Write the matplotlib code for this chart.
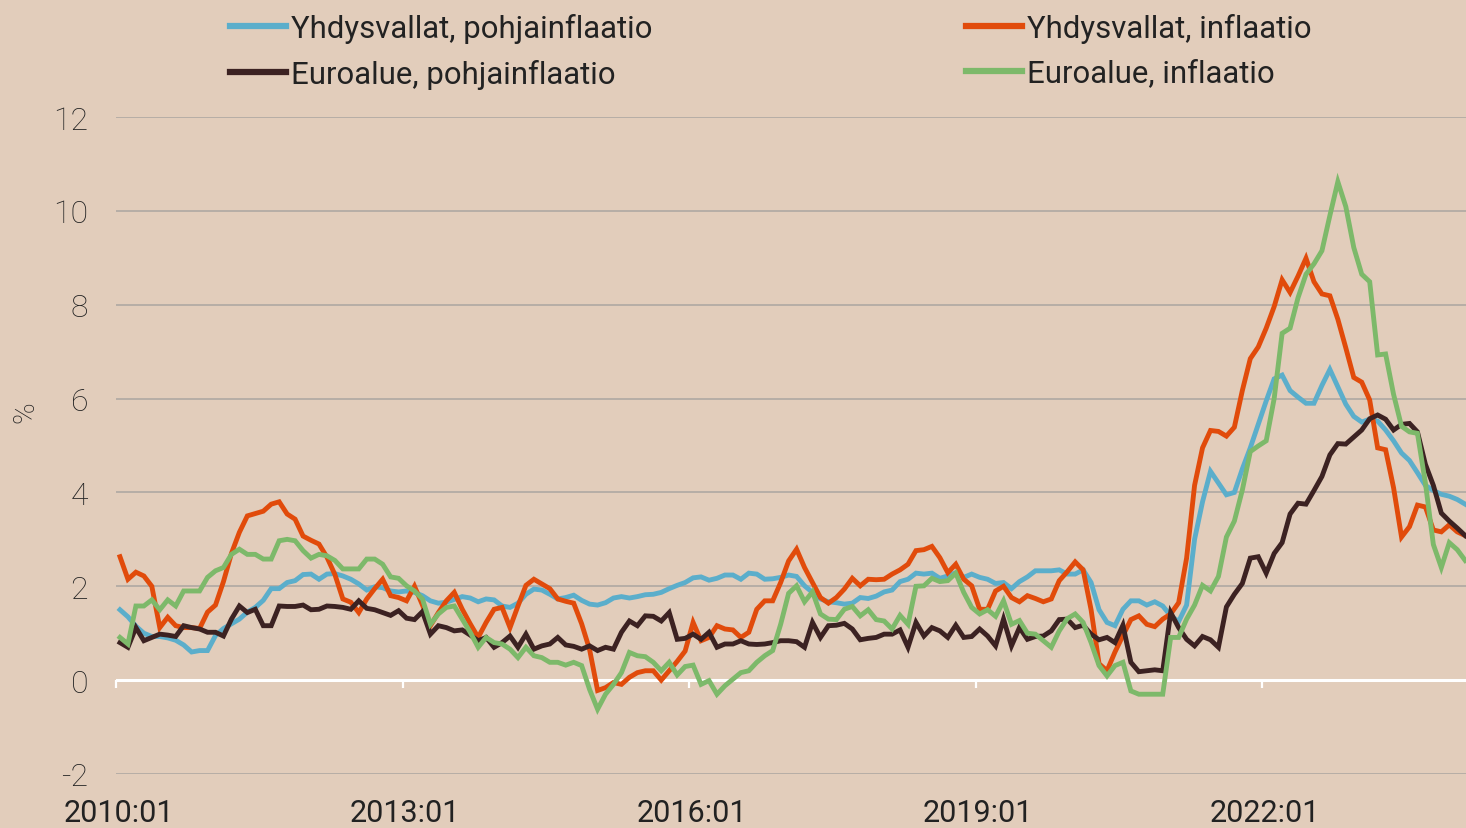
import matplotlib
matplotlib.use("Agg")
import matplotlib.pyplot as plt
import numpy as np

# ---- data: monthly year-on-year change, %, 2010:01 ... 2024:02 ----
start_year, start_month, n_months = 2010, 1, 170

us_core = [
    1.5, 1.35, 1.15, 1.0, 0.93, 0.93, 0.9, 0.85, 0.75, 0.6, 0.63, 0.63,
    0.95, 1.1, 1.2, 1.3, 1.45, 1.55, 1.7, 1.95, 1.95, 2.08, 2.12, 2.25,
    2.26, 2.15, 2.26, 2.27, 2.22, 2.15, 2.05, 1.92, 1.99, 1.97, 1.9, 1.88,
    1.9, 1.87, 1.8, 1.69, 1.64, 1.66, 1.72, 1.78, 1.75, 1.67, 1.73, 1.71,
    1.58, 1.55, 1.64, 1.83, 1.94, 1.92, 1.83, 1.73, 1.76, 1.81, 1.7, 1.62,
    1.6, 1.65, 1.75, 1.78, 1.75, 1.78, 1.82, 1.83, 1.87, 1.95, 2.02, 2.08,
    2.18, 2.2, 2.13, 2.17, 2.24, 2.24, 2.15, 2.28, 2.26, 2.15, 2.16, 2.19,
    2.24, 2.21, 2.01, 1.87, 1.73, 1.67, 1.65, 1.62, 1.64, 1.76, 1.74, 1.79,
    1.88, 1.92, 2.1, 2.15, 2.28, 2.26, 2.28, 2.17, 2.22, 2.29, 2.19, 2.26,
    2.19, 2.15, 2.06, 2.08, 1.95, 2.1, 2.2, 2.33, 2.33, 2.33, 2.35, 2.26,
    2.26, 2.35, 2.08, 1.5, 1.23, 1.16, 1.51, 1.69, 1.69, 1.6, 1.67, 1.58,
    1.37, 1.25, 1.6, 3.0, 3.8, 4.45, 4.2, 3.95, 4.0, 4.5, 4.95, 5.45,
    5.95, 6.42, 6.5, 6.17, 6.03, 5.9, 5.9, 6.28, 6.62, 6.25, 5.88, 5.62,
    5.5, 5.56, 5.52, 5.33, 5.1, 4.84, 4.68, 4.42, 4.15, 4.04, 3.96, 3.92,
    3.85, 3.75,
]

us_cpi = [
    2.63, 2.15, 2.3, 2.22, 2.0, 1.12, 1.34, 1.16, 1.12, 1.12, 1.1, 1.45,
    1.6, 2.1, 2.7, 3.15, 3.5, 3.55, 3.6, 3.75, 3.8, 3.54, 3.43, 3.07,
    2.98, 2.9, 2.62, 2.25, 1.73, 1.66, 1.44, 1.73, 1.95, 2.15, 1.8, 1.76,
    1.69, 2.0, 1.6, 1.16, 1.44, 1.69, 1.87, 1.51, 1.2, 0.91, 1.23, 1.51,
    1.55, 1.12, 1.58, 2.02, 2.15, 2.05, 1.95, 1.73, 1.68, 1.64, 1.2, 0.65,
    -0.22, -0.16, -0.05, -0.09, 0.06, 0.16, 0.2, 0.2, 0.0, 0.2, 0.4, 0.62,
    1.23, 0.84, 0.91, 1.16, 1.09, 1.07, 0.91, 1.02, 1.51, 1.69, 1.69, 2.08,
    2.54, 2.79, 2.4, 2.08, 1.76, 1.64, 1.76, 1.94, 2.17, 2.01, 2.15, 2.14,
    2.15, 2.26, 2.35, 2.47, 2.76, 2.78, 2.85, 2.61, 2.29, 2.47, 2.15, 2.01,
    1.51, 1.51, 1.9, 2.0, 1.76, 1.67, 1.8, 1.74, 1.67, 1.73, 2.12, 2.31,
    2.52, 2.35, 1.5, 0.35, 0.2, 0.6, 0.95, 1.29, 1.37, 1.19, 1.14, 1.3,
    1.41, 1.65, 2.6, 4.15, 4.95, 5.32, 5.3, 5.2, 5.39, 6.17, 6.85, 7.1,
    7.5, 7.96, 8.53, 8.26, 8.61, 8.99, 8.49, 8.23, 8.19, 7.69, 7.08, 6.45,
    6.35, 5.97, 4.95, 4.91, 4.1, 3.05, 3.27, 3.73, 3.69, 3.2, 3.16, 3.31,
    3.16, 3.08,
]

ea_core = [
    0.8, 0.7, 1.12, 0.84, 0.91, 0.98, 0.96, 0.93, 1.16, 1.12, 1.09, 1.02,
    1.02, 0.94, 1.3, 1.58, 1.44, 1.51, 1.16, 1.16, 1.58, 1.57, 1.57, 1.6,
    1.5, 1.51, 1.58, 1.57, 1.55, 1.51, 1.69, 1.53, 1.5, 1.44, 1.38, 1.48,
    1.32, 1.29, 1.46, 0.98, 1.16, 1.12, 1.05, 1.07, 0.96, 0.84, 0.91, 0.7,
    0.8, 0.94, 0.7, 0.98, 0.66, 0.73, 0.77, 0.91, 0.75, 0.72, 0.66, 0.73,
    0.63, 0.7, 0.66, 1.02, 1.26, 1.16, 1.37, 1.36, 1.26, 1.44, 0.87, 0.89,
    0.98, 0.87, 1.02, 0.7, 0.77, 0.77, 0.84, 0.77, 0.76, 0.77, 0.8, 0.84,
    0.84, 0.82, 0.7, 1.23, 0.91, 1.16, 1.17, 1.21, 1.09, 0.86, 0.89, 0.91,
    0.98, 0.98, 1.07, 0.7, 1.23, 0.94, 1.12, 1.05, 0.91, 1.17, 0.91, 0.93,
    1.09, 0.94, 0.73, 1.3, 0.73, 1.12, 0.87, 0.93, 0.94, 1.05, 1.29, 1.3,
    1.12, 1.17, 0.98, 0.86, 0.91, 0.8, 1.17, 0.38, 0.18, 0.2, 0.22, 0.2,
    1.44, 1.12, 0.87, 0.73, 0.93, 0.86, 0.7, 1.56, 1.83, 2.06, 2.6, 2.63,
    2.28, 2.7, 2.93, 3.54, 3.77, 3.75, 4.04, 4.34, 4.8, 5.04, 5.03, 5.18,
    5.33, 5.57, 5.65, 5.56, 5.33, 5.45, 5.47, 5.29, 4.6, 4.15, 3.56, 3.39,
    3.24, 3.08,
]

ea_cpi = [
    0.91, 0.77, 1.58, 1.58, 1.71, 1.5, 1.71, 1.58, 1.9, 1.9, 1.9, 2.19,
    2.33, 2.4, 2.68, 2.79, 2.68, 2.68, 2.58, 2.58, 2.97, 3.0, 2.97, 2.76,
    2.6, 2.68, 2.65, 2.55, 2.37, 2.37, 2.37, 2.58, 2.58, 2.47, 2.2, 2.17,
    2.01, 1.9, 1.73, 1.19, 1.41, 1.55, 1.58, 1.3, 1.02, 0.7, 0.91, 0.8,
    0.77, 0.66, 0.48, 0.7, 0.52, 0.48, 0.38, 0.38, 0.32, 0.38, 0.31, -0.2,
    -0.62, -0.3, -0.09, 0.16, 0.59, 0.52, 0.5, 0.38, 0.2, 0.38, 0.11, 0.29,
    0.32, -0.09, -0.01, -0.3, -0.12, 0.02, 0.16, 0.2, 0.38, 0.52, 0.63, 1.19,
    1.85, 2.01, 1.67, 1.88, 1.41, 1.3, 1.29, 1.51, 1.57, 1.37, 1.5, 1.29,
    1.26, 1.09, 1.38, 1.19, 2.0, 2.01, 2.17, 2.1, 2.12, 2.28, 1.87, 1.55,
    1.41, 1.5, 1.36, 1.69, 1.19, 1.27, 1.0, 0.98, 0.84, 0.7, 1.05, 1.31,
    1.41, 1.23, 0.8, 0.31, 0.09, 0.31, 0.38, -0.23, -0.3, -0.3, -0.3, -0.3,
    0.91, 0.91, 1.3, 1.6, 2.02, 1.9, 2.21, 3.05, 3.39, 4.05, 4.87, 4.99,
    5.1, 6.0, 7.39, 7.5, 8.15, 8.65, 8.87, 9.15, 9.9, 10.62, 10.09, 9.22,
    8.65, 8.49, 6.93, 6.95, 6.09, 5.41, 5.29, 5.26, 4.2, 2.89, 2.4, 2.93,
    2.78, 2.55,
]

series_labels = ["Yhdysvallat, pohjainflaatio", "Yhdysvallat, inflaatio",
                 "Euroalue, pohjainflaatio", "Euroalue, inflaatio"]
tick_labels = ["2010:01", "2013:01", "2016:01", "2019:01", "2022:01"]
y_ticks = [-2, 0, 2, 4, 6, 8, 10, 12]

# ---- style ----
BG = "#E2CDBB"
colors = ["#5BAECB", "#E14B0B", "#3C2222", "#7DB96A"]
TXT = "#222222"
FONT = ["Roboto", "DejaVu Sans"]
plt.rcParams["font.family"] = FONT

fig = plt.figure(figsize=(14.66, 8.29), dpi=100, facecolor=BG)
W, H = 1466, 829
ax = fig.add_axes([116 / W, (H - 775) / H, 1350 / W, 657 / H])
ax.set_facecolor(BG)

x = np.arange(n_months)
lines = []
for vals, col, lab in zip([us_core, us_cpi, ea_core, ea_cpi], colors, series_labels):
    ln, = ax.plot(x[:len(vals)], vals, color=col, lw=3.5, label=lab,
                  solid_joinstyle="miter", zorder=3)
    lines.append(ln)

ax.set_xlim(-0.5, 169.1)
ax.set_ylim(-2, 12)

for s in ax.spines.values():
    s.set_visible(False)

# y axis
ax.set_yticks(y_ticks)
ax.set_yticklabels([str(v) for v in y_ticks])
ax.tick_params(axis="y", length=0, pad=20, labelsize=23, labelcolor=TXT)
for lbl in ax.get_yticklabels():
    lbl.set_fontweight("light")
ax.yaxis.grid(True, color="#B3ABA4", lw=1.3, zorder=0.5)
ax.set_axisbelow(True)
ax.axhline(0, color="white", lw=2.2, zorder=1.5)
ax.set_ylabel("%", fontsize=21, color=TXT, fontweight="light")
ax.yaxis.set_label_coords((39 - 116) / 1350, (775 - 412) / 657)

# x axis labels (positions of labelled months)
label_pos = [(int(t[:4]) - start_year) * 12 + int(t[5:]) - start_month for t in tick_labels]
ax.set_xticks([p - 0.2 for p in label_pos])
ax.set_xticklabels(tick_labels)
ax.tick_params(axis="x", length=0, pad=17, labelsize=22, labelcolor=TXT)

# tick marks on the zero line
sec = ax.secondary_xaxis(2 / 14)
sec.set_xticks([p - 0.5 for p in label_pos])
sec.set_xticklabels([])
sec.tick_params(axis="x", direction="out", length=6, width=1.6, color="white")
for s in sec.spines.values():
    s.set_visible(False)

# legends
leg_kw = dict(frameon=False, fontsize=22.4, handlelength=1.8, handletextpad=0.16,
              labelspacing=0.5, borderpad=0, borderaxespad=0, loc="upper left",
              labelcolor=TXT)
leg1 = fig.legend([lines[0], lines[2]], [series_labels[0], series_labels[2]],
                  bbox_to_anchor=(230 / W, 1 - 14 / H), **leg_kw)
leg2 = fig.legend([lines[1], lines[3]], [series_labels[1], series_labels[3]],
                  bbox_to_anchor=(966 / W, 1 - 14 / H), **leg_kw)
for lg in (leg1, leg2):
    for h in lg.legend_handles:
        h.set_linewidth(4.5)

fig.savefig("out.png", dpi=100, facecolor=BG)
